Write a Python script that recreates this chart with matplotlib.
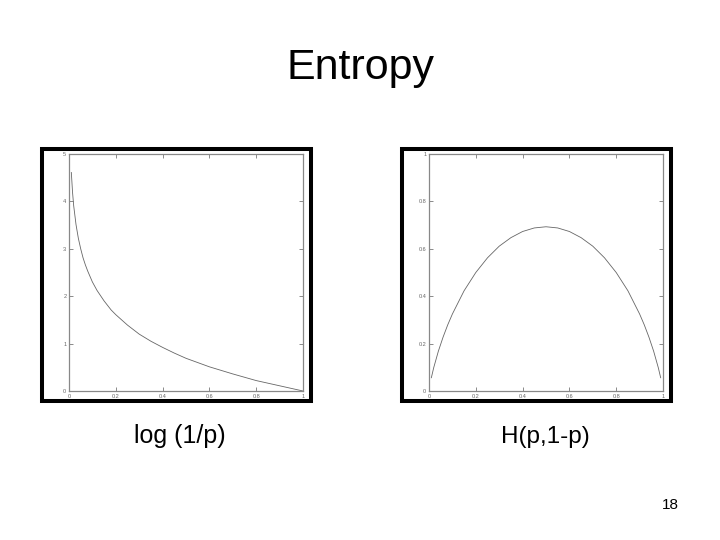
import matplotlib
matplotlib.use("Agg")
import matplotlib.pyplot as plt
from matplotlib.patches import Rectangle

plt.rcParams['font.family'] = ['Liberation Sans', 'DejaVu Sans']

# Values
p_left = [0.01, 0.015, 0.02, 0.03, 0.04, 0.05, 0.06, 0.07, 0.08, 0.1, 0.12, 0.15, 0.18,
          0.2, 0.25, 0.3, 0.35, 0.4, 0.45, 0.5, 0.6, 0.7, 0.8, 0.9, 1.0]
y_left = [4.61, 4.20, 3.91, 3.51, 3.22, 3.00, 2.81, 2.66, 2.53, 2.30, 2.12, 1.90, 1.71,
          1.61, 1.39, 1.20, 1.05, 0.92, 0.80, 0.69, 0.51, 0.36, 0.22, 0.11, 0.0]

p_right = [0.01, 0.02, 0.04, 0.06, 0.08, 0.1, 0.15, 0.2, 0.25, 0.3, 0.35, 0.4, 0.45, 0.5,
           0.55, 0.6, 0.65, 0.7, 0.75, 0.8, 0.85, 0.9, 0.92, 0.94, 0.96, 0.98, 0.99]
y_right = [0.056, 0.098, 0.168, 0.227, 0.279, 0.325, 0.423, 0.500, 0.562, 0.611, 0.647, 0.673,
           0.688, 0.693, 0.688, 0.673, 0.647, 0.611, 0.562, 0.500, 0.423, 0.325, 0.279, 0.227,
           0.168, 0.098, 0.056]

x_ticks = [0, 0.2, 0.4, 0.6, 0.8, 1]
x_ticklabels = ["0", "0.2", "0.4", "0.6", "0.8", "1"]
yl_ticks = [0, 1, 2, 3, 4, 5]
yl_ticklabels = ["0", "1", "2", "3", "4", "5"]
yr_ticks = [0, 0.2, 0.4, 0.6, 0.8, 1]
yr_ticklabels = ["0", "0.2", "0.4", "0.6", "0.8", "1"]

title = "Entropy"
labels = ["log (1/p)", "H(p,1-p)"]
page = "18"

W, H = 720, 540
fig = plt.figure(figsize=(7.2, 5.4), dpi=100)

def fx(px): return px / W
def fy(py): return 1 - py / H

def make_axes(left_px, xs, ys, yticks, yticklabels, ymax):
    ax = fig.add_axes([fx(left_px), fy(391), 234 / W, 237 / H])
    ax.plot(xs, ys, color="#666666", lw=0.6)
    ax.set_xlim(0, 1)
    ax.set_ylim(0, ymax)
    ax.set_xticks(x_ticks)
    ax.set_xticklabels(x_ticklabels)
    ax.set_yticks(yticks)
    ax.set_yticklabels(yticklabels)
    ax.tick_params(direction="in", length=3, width=0.6, color="#777777",
                   labelsize=4, labelcolor="#666666", pad=2,
                   top=True, right=True)
    for s in ax.spines.values():
        s.set_color("#888888")
        s.set_linewidth(0.9)
    return ax

make_axes(69, p_left, y_left, yl_ticks, yl_ticklabels, 5)
make_axes(429, p_right, y_right, yr_ticks, yr_ticklabels, 1)

# black frames around plots
for x0, x1 in [(42, 311), (402, 671)]:
    rect = Rectangle((fx(x0), fy(401)), (x1 - x0) / W, (401 - 149) / H,
                     transform=fig.transFigure, fill=False, edgecolor="black",
                     linewidth=2.9, zorder=0)
    fig.patches.append(rect)

fig.text(fx(360), fy(79), title, ha="center", va="baseline", fontsize=31, color="black")
fig.text(fx(180), fy(443), labels[0], ha="center", va="baseline", fontsize=18, color="black")
fig.text(fx(545), fy(443), labels[1], ha="center", va="baseline", fontsize=17.5, color="black")
fig.text(fx(670), fy(509), page, ha="center", va="baseline", fontsize=11, color="black")

fig.savefig("out.png", dpi=100, facecolor="white")
